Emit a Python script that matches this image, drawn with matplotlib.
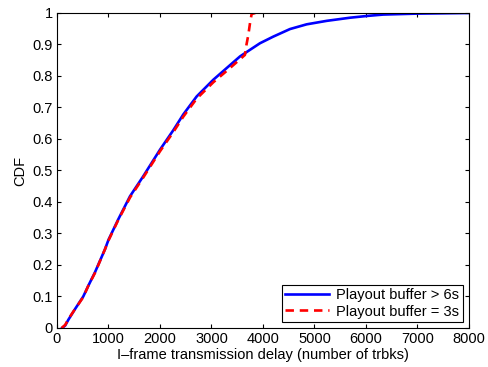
import numpy as np
import matplotlib
matplotlib.use("Agg")
import matplotlib.pyplot as plt

plt.rcParams["font.family"] = ["Liberation Sans", "DejaVu Sans"]

# CDF of I-frame transmission delay
delay_long = [100, 160, 220, 350, 510, 608, 738, 932, 1000, 1190, 1417, 1676, 2000, 2259,
              2453, 2712, 3035, 3294, 3553, 3747, 3942, 4200, 4524, 4848, 5236, 5689,
              6045, 6336, 6984, 7500, 8000]
cdf_long = [0.0, 0.008, 0.026, 0.06, 0.10, 0.134, 0.177, 0.25, 0.28, 0.345, 0.418, 0.482,
            0.566, 0.628, 0.678, 0.735, 0.788, 0.825, 0.862, 0.883, 0.904, 0.925, 0.949,
            0.964, 0.975, 0.985, 0.991, 0.995, 0.998, 0.999, 1.0]

delay_short = [90, 160, 220, 350, 510, 608, 738, 932, 1000, 1190, 1417, 1676, 2000, 2259,
               2453, 2712, 3035, 3294, 3553, 3650, 3680, 3715, 3750, 3780, 3850]
cdf_short = [0.0, 0.01, 0.028, 0.06, 0.098, 0.134, 0.175, 0.25, 0.278, 0.343, 0.414, 0.478,
             0.561, 0.622, 0.671, 0.728, 0.780, 0.816, 0.853, 0.867, 0.900, 0.930, 0.970,
             0.997, 1.0]

xticks = np.arange(0, 8001, 1000)
yticks = np.round(np.arange(0, 1.01, 0.1), 1)

fig = plt.figure(figsize=(4.88, 3.67), dpi=100)
ax = fig.add_axes([0.1168, 0.1063, 0.8442, 0.8583])

ax.plot(delay_long, cdf_long, color="#0000ff", lw=1.9, label="Playout buffer > 6s")
ax.plot(delay_short, cdf_short, color="#ff0000", lw=1.9, ls=(0, (3.2, 2.2)),
        label="Playout buffer = 3s")

ax.set_xlim(0, 8000)
ax.set_ylim(0, 1)
ax.set_xticks(xticks)
ax.set_yticks(yticks)
ax.set_yticklabels([f"{v:g}" for v in yticks])
ax.tick_params(direction="in", top=True, right=True, labelsize=10.5, length=3, pad=3)
ax.set_xlabel("I\u2013frame transmission delay (number of trbks)", fontsize=10.5, labelpad=1)
ax.set_ylabel("CDF", fontsize=10.5, labelpad=4)

leg = ax.legend(loc="lower right", fontsize=10.5, fancybox=False, framealpha=1,
                edgecolor="black", borderpad=0.25, handlelength=3.0, handletextpad=0.5,
                labelspacing=0.15, borderaxespad=0.4)
leg.get_frame().set_linewidth(0.8)

fig.savefig("out.png", dpi=100)
